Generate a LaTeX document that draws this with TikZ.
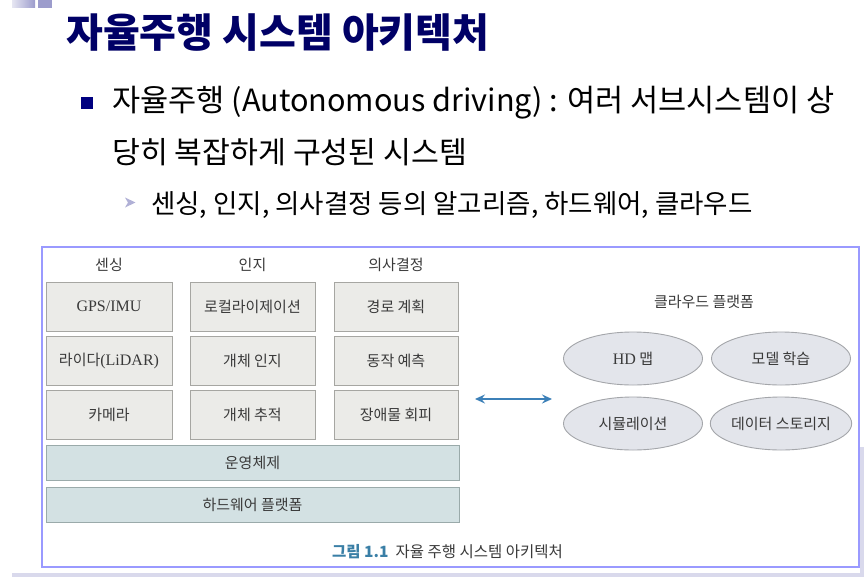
\documentclass[tikz,border=0pt]{standalone}
\usepackage{fontspec}
\setmainfont{Noto Sans CJK KR}
\newfontfamily\figser{Liberation Serif}
\usetikzlibrary{arrows.meta,shapes.geometric}
\definecolor{titlenavy}{HTML}{000066}
\definecolor{bulletnavy}{HTML}{000080}
\definecolor{lav}{HTML}{9A9AFF}
\definecolor{shadowc}{HTML}{D9D9EC}
\definecolor{decol}{HTML}{9C9CCC}
\definecolor{boxfill}{HTML}{EBEBE8}
\definecolor{boxline}{HTML}{A6A6A2}
\definecolor{barfill}{HTML}{D3E1E3}
\definecolor{barline}{HTML}{9AAAAA}
\definecolor{ellfill}{HTML}{E3E5EB}
\definecolor{ellline}{HTML}{A4A6AA}
\definecolor{figtext}{HTML}{3A3A3A}
\definecolor{arrowblue}{HTML}{3C80B8}
\definecolor{capblue}{HTML}{3A7FA6}
\tikzset{
  x=1pt, y=-1pt,
  figfont/.style={font=\fontsize{15}{18}\selectfont, text=figtext},
  algbox/.style={figfont, draw=boxline, fill=boxfill, line width=0.9pt, minimum width=125pt, minimum height=49pt, inner sep=0pt},
  barbox/.style={figfont, draw=barline, fill=barfill, line width=0.9pt, minimum width=413pt, minimum height=35pt, inner sep=0pt},
  cloudell/.style={figfont, ellipse, draw=ellline, fill=ellfill, line width=0.9pt, minimum width=139pt, minimum height=53pt, inner sep=0pt},
  header/.style={figfont, inner sep=0pt},
  slidetext/.style={inner sep=0pt, anchor=base west},
}
\begin{document}
\begin{tikzpicture}
\useasboundingbox (0,0) rectangle (866,581);
\fill[white] (0,0) rectangle (866,581);
% top-left decoration
\shade[left color=decol!25, right color=decol] (12,0) rectangle (35,7.5);
\fill[decol] (38,0) rectangle (52,8);
% title
\node[slidetext, font=\fontsize{40}{46}\selectfont\bfseries, text=titlenavy] (title) at (66,47) {자율주행 시스템 아키텍처};
% bullet
\fill[bulletnavy] (81,97) rectangle (93,109);
\node[slidetext, font=\fontsize{30.6}{36}\selectfont] (line1) at (112,111.5) {자율주행 (Autonomous driving) : 여러 서브시스템이 상};
\node[slidetext, font=\fontsize{30.3}{36}\selectfont] (line2) at (112,163.5) {당히 복잡하게 구성된 시스템};
% sub bullet
\fill[decol!80] (125,197.5) -- (135.5,202.5) -- (125,207.5) -- (128,202.5) -- cycle;
\node[slidetext, font=\fontsize{26.5}{31}\selectfont] (sub) at (151,213) {센싱, 인지, 의사결정 등의 알고리즘, 하드웨어, 클라우드};
% figure frame and shadow
\fill[shadowc] (860,447) rectangle (864,577);
\fill[shadowc] (12,573) rectangle (864,577);
\draw[lav, line width=1.3pt, fill=white] (42,247) rectangle (859,567);
% headers
\node[header] (h1) at (109,265) {센싱};
\node[header] (h2) at (252.5,265) {인지};
\node[header] (h3) at (396,265) {의사결정};
% algorithm boxes
\node[algbox, minimum width=126pt] (gps) at (109,306.5) {\figser\fontsize{16}{18}\selectfont GPS/IMU};
\node[algbox] (loc) at (252.5,306.5) {로컬라이제이션};
\node[algbox, minimum width=124pt] (path) at (396,306.5) {경로 계획};
\node[algbox, minimum width=126pt] (lidar) at (109,360.5) {라이다{\figser\fontsize{16}{18}\selectfont(LiDAR)}};
\node[algbox] (objrec) at (252.5,360.5) {개체 인지};
\node[algbox, minimum width=124pt] (pred) at (396,360.5) {동작 예측};
\node[algbox, minimum width=126pt] (cam) at (109,414.5) {카메라};
\node[algbox] (track) at (252.5,414.5) {개체 추적};
\node[algbox, minimum width=124pt] (avoid) at (396,414.5) {장애물 회피};
% bars
\node[barbox] (os) at (252.5,462.5) {운영체제};
\node[barbox] (hw) at (252.5,504.5) {하드웨어 플랫폼};
% arrow
\coordinate (arrL) at (475,399);
\coordinate (arrR) at (552,399);
\draw[arrowblue, line width=1.9pt, {Stealth[length=10pt,width=9pt,inset=3.5pt]}-{Stealth[length=10pt,width=9pt,inset=3.5pt]}] (arrL) -- (arrR);
% cloud
\node[header] (cloud) at (704,302) {클라우드 플랫폼};
\node[cloudell] (hdmap) at (633,358.5) {{\figser\fontsize{16}{18}\selectfont HD} 맵};
\node[cloudell] (train) at (781,358.5) {모델 학습};
\node[cloudell] (sim) at (633,423.5) {시뮬레이션};
\node[cloudell] (store) at (781,423.5) {데이터 스토리지};
% caption
\node[inner sep=0pt, anchor=base east, font=\fontsize{15.5}{18}\selectfont, text=figtext] (cap) at (563,557) {{\bfseries\color{capblue}그림 1.1}\hspace{7pt}자율 주행 시스템 아키텍처};
\end{tikzpicture}
\end{document}
